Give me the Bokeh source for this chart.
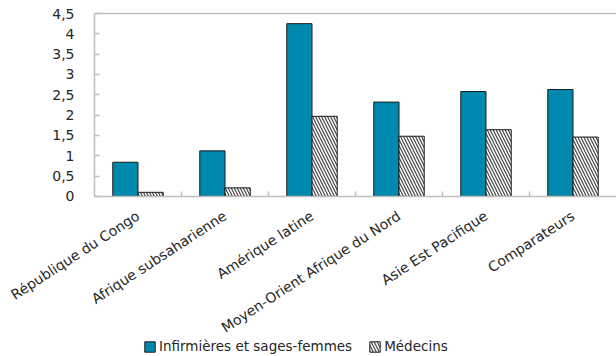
from math import pi
from bokeh.plotting import figure
from bokeh.models import (ColumnDataSource, FactorRange, Range1d, FixedTicker,
                          CustomJSTickFormatter, Legend, LegendItem)
from bokeh.transform import dodge
from bokeh.embed import file_html
from bokeh.resources import INLINE

categories = ["République du Congo", "Afrique subsaharienne", "Amérique latine",
              "Moyen-Orient Afrique du Nord", "Asie Est Pacifique", "Comparateurs"]
infirmieres = [0.84, 1.12, 4.25, 2.32, 2.58, 2.63]
medecins = [0.10, 0.21, 1.97, 1.48, 1.64, 1.46]
series_names = ["Infirmières et sages-femmes", "Médecins"]
y_ticks = [0, 0.5, 1, 1.5, 2, 2.5, 3, 3.5, 4, 4.5]
Y_MAX = 4.5

FONT = "DejaVu Sans"
GREY = "#BFBFBF"
TXT = "#262626"
SPACER = " "  # blank slot left of the first category, holds the value axis labels

src = ColumnDataSource(dict(cat=categories, inf=infirmieres, med=medecins))

# the frame spans almost the whole canvas so that the rotated category labels,
# the value labels and the legend (all drawn inside it) are not clipped
p = figure(width=616, height=356, output_backend="svg", toolbar_location=None,
           x_range=FactorRange(SPACER, *categories, range_padding=0),
           y_range=Range1d(-3.94, 4.82),
           min_border_left=7, min_border_right=0, min_border_top=0,
           min_border_bottom=0)
p.outline_line_color = None
p.grid.grid_line_color = None

r1 = p.vbar(x=dodge("cat", -0.145, range=p.x_range), top="inf", width=0.29,
            source=src, fill_color="#0089AE", line_color="#1a1a1a", line_width=1)
r2 = p.vbar(x=dodge("cat", 0.145, range=p.x_range), top="med", width=0.29,
            source=src, fill_color="white", line_color="#1a1a1a", line_width=1,
            hatch_pattern="left_diagonal_line", hatch_color="#444444",
            hatch_weight=1.2, hatch_scale=6)

# top frame line and category axis line, across the category area only
lsrc = ColumnDataSource(dict(first=[categories[0]] * 2, last=[categories[-1]] * 2,
                             y=[0, Y_MAX]))
p.segment(x0=dodge("first", -0.5, range=p.x_range), x1=dodge("last", 0.5, range=p.x_range),
          y0="y", y1="y", source=lsrc, line_color=GREY, line_width=1.5)

# boundary ticks between categories on the x axis
bsrc = ColumnDataSource(dict(cat=categories[:-1], y0=[0] * 5, y1=[0.12] * 5))
p.segment(x0=dodge("cat", 0.5, range=p.x_range), x1=dodge("cat", 0.5, range=p.x_range),
          y0="y0", y1="y1", source=bsrc, line_color=GREY, line_width=1.5)

yax = p.yaxis[0]
yax.fixed_location = 1.0  # boundary between spacer and first category
yax.bounds = (0, Y_MAX)
yax.ticker = FixedTicker(ticks=y_ticks)
yax.formatter = CustomJSTickFormatter(code="return tick.toString().replace('.', ',');")
yax.axis_line_color = GREY
yax.axis_line_width = 1.5
yax.major_tick_line_color = GREY
yax.major_tick_line_width = 1.5
yax.major_tick_in = 5
yax.major_tick_out = 0
yax.minor_tick_line_color = None
yax.major_label_standoff = 20
yax.major_label_text_font = FONT
yax.major_label_text_font_size = "14px"
yax.major_label_text_color = TXT

xax = p.xaxis[0]
xax.fixed_location = 0
xax.axis_line_color = None
xax.major_tick_line_color = None
xax.minor_tick_line_color = None
xax.major_label_overrides = {SPACER: ""}
xax.major_label_orientation = 33 * pi / 180
xax.major_label_standoff = 12
xax.major_label_text_font = FONT
xax.major_label_text_font_size = "14px"
xax.major_label_text_color = TXT

legend = Legend(items=[LegendItem(label=series_names[0], renderers=[r1]),
                       LegendItem(label=series_names[1], renderers=[r2])],
                orientation="horizontal", location=(136, 2),
                label_text_font=FONT, label_text_font_size="13.5px",
                label_text_color=TXT, label_height=16,
                glyph_width=13, glyph_height=13, label_standoff=3, spacing=16,
                padding=0, margin=0, border_line_color=None,
                background_fill_alpha=0)
p.add_layout(legend, "center")

open("out.html", "w").write(file_html(p, INLINE))
